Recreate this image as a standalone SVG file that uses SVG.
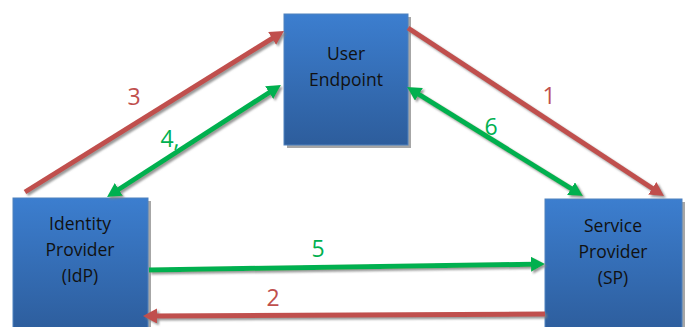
<svg xmlns="http://www.w3.org/2000/svg" width="686" height="327" viewBox="0 0 686 327">
  <defs>
    <linearGradient id="boxFill" x1="0" y1="0" x2="0" y2="1">
      <stop offset="0" stop-color="#3C7ECF"/>
      <stop offset="1" stop-color="#2D5D9C"/>
    </linearGradient>
    <filter id="shadow" x="-10%" y="-10%" width="130%" height="130%">
      <feDropShadow dx="2" dy="2" stdDeviation="0.8" flood-color="#7f7f7f" flood-opacity="0.8"/>
    </filter>
    <marker id="headRed" markerUnits="userSpaceOnUse" markerWidth="16" markerHeight="16" refX="3" refY="7.5" orient="auto-start-reverse">
      <path d="M0,0 L14,7.5 L0,15 z" fill="#C0504D"/>
    </marker>
    <marker id="headGreen" markerUnits="userSpaceOnUse" markerWidth="16" markerHeight="16" refX="3" refY="7.5" orient="auto-start-reverse">
      <path d="M0,0 L14,7.5 L0,15 z" fill="#00B050"/>
    </marker>
  </defs>
  <style>
    .box { fill: url(#boxFill); stroke: #4F81BD; stroke-width: 1; }
    .boxShadow { fill: #A6A6A6; }
    .boxText { font-family: "Open Sans", "Noto Sans", sans-serif; font-size: 17.5px; fill: #111; text-anchor: middle; }
    .red { stroke: #C0504D; stroke-width: 5; fill: none; marker-end: url(#headRed); }
    .green { stroke: #00B050; stroke-width: 5; fill: none; marker-end: url(#headGreen); }
    .both { marker-start: url(#headGreen); }
    .lblRed { font-family: "Open Sans", "Noto Sans", sans-serif; font-size: 23px; fill: #C0504D; text-anchor: middle; }
    .lblGreen { font-family: "Open Sans", "Noto Sans", sans-serif; font-size: 23px; fill: #00B050; text-anchor: middle; }
  </style>

  <g id="user-endpoint">
    <rect class="boxShadow" x="287" y="17" width="124" height="131"/>
    <rect class="box" x="284" y="14" width="124" height="131"/>
    <text class="boxText" x="346" y="60">User</text>
    <text class="boxText" x="346" y="86">Endpoint</text>
  </g>

  <g id="identity-provider">
    <rect class="boxShadow" x="16" y="201" width="135" height="130"/>
    <rect class="box" x="13" y="198" width="135" height="134"/>
    <text class="boxText" x="80" y="230">Identity</text>
    <text class="boxText" x="80" y="256">Provider</text>
    <text class="boxText" x="80" y="282">(IdP)</text>
  </g>

  <g id="service-provider">
    <rect class="boxShadow" x="548" y="202" width="137" height="130"/>
    <rect class="box" x="545" y="199" width="137" height="134"/>
    <text class="boxText" x="613" y="232">Service</text>
    <text class="boxText" x="613" y="258">Provider</text>
    <text class="boxText" x="613" y="284">(SP)</text>
  </g>

  <g id="connectors" filter="url(#shadow)">
    <line class="red" x1="25" y1="192" x2="274.7" y2="36.8"/>
    <line class="green both" x1="116.3" y1="191" x2="271.7" y2="91"/>
    <line class="red" x1="408" y1="28" x2="654.8" y2="190"/>
    <line class="green both" x1="416.4" y1="92.8" x2="573.6" y2="190.2"/>
    <line class="green" x1="149" y1="270" x2="534" y2="264.2"/>
    <line class="red" x1="545" y1="314" x2="154" y2="316"/>
  </g>

  <g id="labels">
    <text class="lblRed" x="134" y="105">3</text>
    <text class="lblGreen" x="170" y="147">4,</text>
    <text class="lblRed" x="549" y="104">1</text>
    <text class="lblGreen" x="491" y="135">6</text>
    <text class="lblGreen" x="318" y="257">5</text>
    <text class="lblRed" x="273" y="306">2</text>
  </g>
</svg>
